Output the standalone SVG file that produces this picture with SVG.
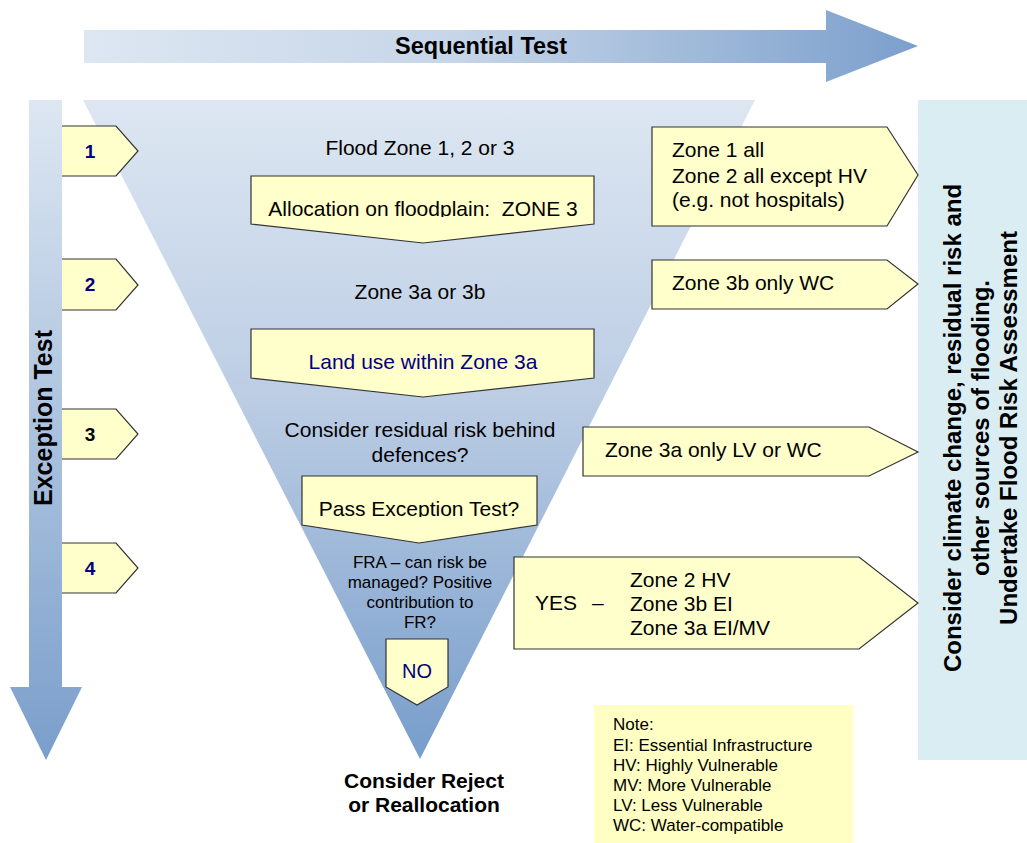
<svg xmlns="http://www.w3.org/2000/svg" width="1027" height="843" viewBox="0 0 1027 843">
<defs>
<linearGradient id="gH" x1="84" y1="0" x2="918" y2="0" gradientUnits="userSpaceOnUse">
<stop offset="0" stop-color="#dde7f2"/><stop offset="0.45" stop-color="#c6d5e8"/><stop offset="1" stop-color="#7b9fcc"/>
</linearGradient>
<linearGradient id="gV" x1="0" y1="100" x2="0" y2="760" gradientUnits="userSpaceOnUse">
<stop offset="0" stop-color="#dde7f2"/><stop offset="1" stop-color="#7a9ecb"/>
</linearGradient>
<linearGradient id="gT" x1="0" y1="100" x2="0" y2="760" gradientUnits="userSpaceOnUse">
<stop offset="0" stop-color="#dde7f2"/><stop offset="0.45" stop-color="#bccde4"/><stop offset="1" stop-color="#779dcb"/>
</linearGradient>
<clipPath id="c1"><rect x="251" y="176" width="343" height="41"/></clipPath>
<clipPath id="c2"><rect x="302" y="476" width="235" height="41"/></clipPath>
</defs>
<style>
text{font-family:"Liberation Sans",Arial,sans-serif;fill:#000}
.b{font-weight:bold}
.y{fill:#ffffcc;stroke:#333;stroke-width:1.2}
.n{fill:#000080}
.m{font-size:21px}
.c{text-anchor:middle}
</style>
<rect width="1027" height="843" fill="#fff"/>
<g id="connectors">
<g id="sequential-arrow">
<path d="M84,30 H826 V10 L918,46 L826,82 V63 H84 Z" fill="url(#gH)"/>
<text x="481" y="54" class="b c" font-size="23.5">Sequential Test</text>
</g>
<g id="exception-arrow">
<path d="M29,100 H62 V687 H82 L46,760 L10,687 H29 Z" fill="url(#gV)"/>
<text transform="translate(52,418) rotate(-90)" class="b c" font-size="25">Exception Test</text>
</g>
</g>
<g id="funnel">
<path d="M83,100 H755 L420,759 Z" fill="url(#gT)"/>
</g>
<g id="panel">
<rect x="918" y="100" width="109" height="660" fill="#daedf3"/>
<text transform="translate(961,428) rotate(-90)" class="b c" font-size="24">Consider climate change, residual risk and</text>
<text transform="translate(989,428) rotate(-90)" class="b c" font-size="24">other sources of flooding.</text>
<text transform="translate(1017,428) rotate(-90)" class="b c" font-size="24">Undertake Flood Risk Assessment</text>
</g>
<g id="tag1"><path class="y" d="M62,126 H116 L138,151 L116,176 H62"/><text x="90" y="158" class="b c n" font-size="19">1</text></g>
<g id="tag2"><path class="y" d="M62,259 H116 L138,285 L116,310 H62"/><text x="90" y="291" class="b c n" font-size="19">2</text></g>
<g id="tag3"><path class="y" d="M62,409 H116 L138,434 L116,459 H62"/><text x="90" y="441" class="b c" font-size="19">3</text></g>
<g id="tag4"><path class="y" d="M62,543 H116 L138,568 L116,593 H62"/><text x="90" y="575" class="b c n" font-size="19">4</text></g>
<g id="flood-zone"><text x="420" y="155" class="c m">Flood Zone 1, 2 or 3</text></g>
<g id="allocation">
<path class="y" d="M251,176 H594 V224 L423,243 L251,224 Z"/>
<text x="423" y="216" class="c m" clip-path="url(#c1)">Allocation on floodplain:&#160; ZONE 3</text>
</g>
<g id="zone3ab"><text x="420" y="299" class="c m">Zone 3a or 3b</text></g>
<g id="land-use">
<path class="y" d="M251,329 H594 V378 L423,397 L251,378 Z"/>
<text x="423" y="369" class="c m n">Land use within Zone 3a</text>
</g>
<g id="residual">
<text x="420" y="437" class="c m">Consider residual risk behind</text>
<text x="420" y="462" class="c m">defences?</text>
</g>
<g id="pass-exception">
<path class="y" d="M302,476 H537 V525 L419,543 L302,525 Z"/>
<text x="419" y="516" class="c m" clip-path="url(#c2)">Pass Exception Test?</text>
</g>
<g id="fra">
<text x="420" y="568" class="c" font-size="17">FRA – can risk be</text>
<text x="420" y="588" class="c" font-size="17">managed? Positive</text>
<text x="420" y="608" class="c" font-size="17">contribution to</text>
<text x="420" y="628" class="c" font-size="17">FR?</text>
</g>
<g id="no">
<path class="y" d="M386,639 H448 V687 L417,705 L386,687 Z"/>
<text x="417" y="678" class="c n" font-size="20">NO</text>
</g>
<g id="reject">
<text x="424" y="788" class="b c" font-size="21">Consider Reject</text>
<text x="424" y="812" class="b c" font-size="21">or Reallocation</text>
</g>
<g id="zone1">
<path class="y" d="M652,127 H887 L918,175 L887,226 H652 Z"/>
<text x="672" y="157" class="m">Zone 1 all</text>
<text x="672" y="183" class="m">Zone 2 all except HV</text>
<text x="672" y="207" class="m">(e.g. not hospitals)</text>
</g>
<g id="zone3b">
<path class="y" d="M652,260 H887 L918,284 L887,309 H652 Z"/>
<text x="672" y="290" class="m">Zone 3b only WC</text>
</g>
<g id="zone3a">
<path class="y" d="M583,427 H869 L918,452 L869,476 H583 Z"/>
<text x="605" y="457" class="m">Zone 3a only LV or WC</text>
</g>
<g id="yes">
<path class="y" d="M514,557 H859 L918,603 L859,649 H514 Z"/>
<text x="535" y="610" class="m">YES</text>
<text x="592" y="610" class="m">–</text>
<text x="630" y="587" class="m">Zone 2 HV</text>
<text x="630" y="611" class="m">Zone 3b EI</text>
<text x="630" y="635" class="m">Zone 3a EI/MV</text>
</g>
<g id="note">
<rect x="594" y="705" width="259" height="138" fill="#ffffc4"/>
<text x="613" y="730" font-size="17">Note:</text>
<text x="613" y="751" font-size="17">EI: Essential Infrastructure</text>
<text x="613" y="771" font-size="17">HV: Highly Vulnerable</text>
<text x="613" y="791" font-size="17">MV: More Vulnerable</text>
<text x="613" y="811" font-size="17">LV: Less Vulnerable</text>
<text x="613" y="831" font-size="17">WC: Water-compatible</text>
</g>
</svg>
